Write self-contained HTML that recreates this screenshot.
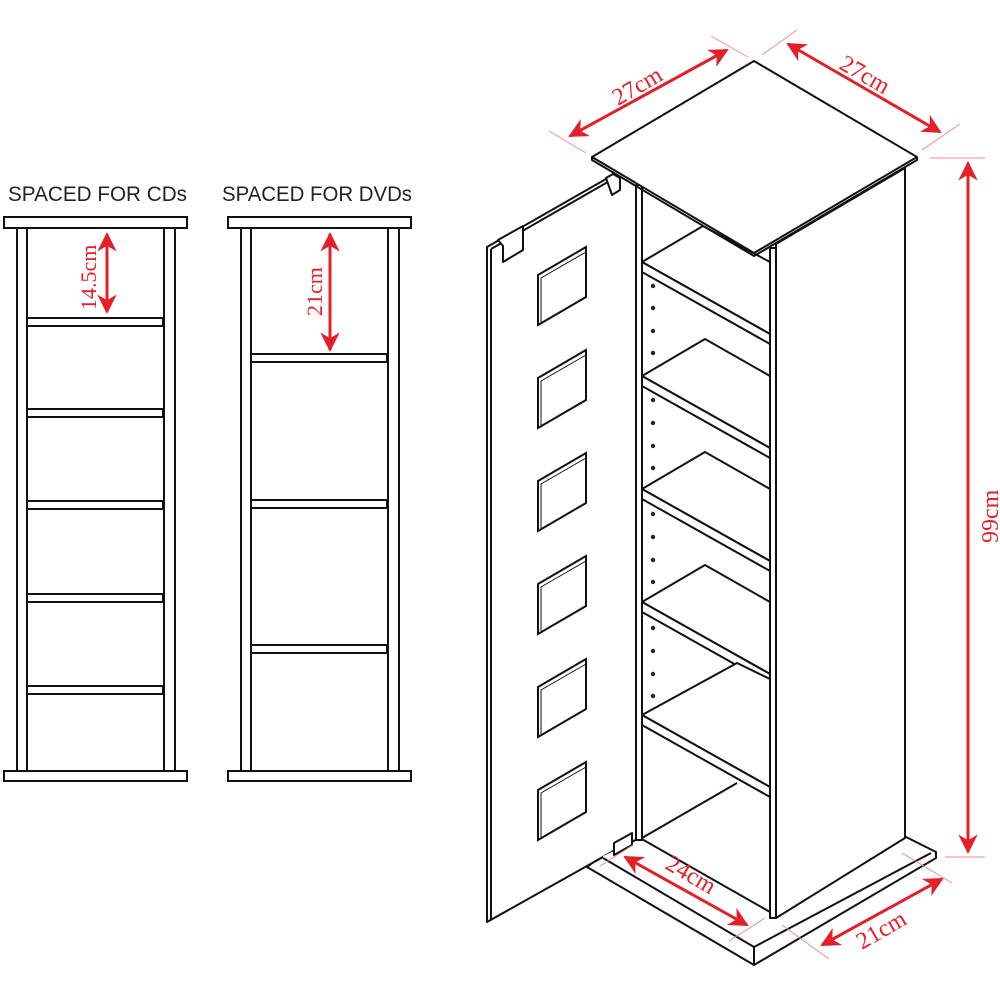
<!DOCTYPE html>
<html><head><meta charset="utf-8"><style>
html,body{margin:0;padding:0;background:#fff;}
svg{display:block;}
</style></head><body>
<svg width="1000" height="1000" viewBox="0 0 1000 1000" xmlns="http://www.w3.org/2000/svg">
<defs>
<marker id="ah" viewBox="0 0 10 10" refX="9" refY="5" markerWidth="6.5" markerHeight="6.5" orient="auto-start-reverse" markerUnits="strokeWidth">
<path d="M0,0 L10,5 L0,10 L3,5 z" fill="#e3202a"/></marker>
</defs>
<g font-family="Liberation Sans, sans-serif" font-size="21" fill="#222">
<text x="8" y="201" textLength="179" lengthAdjust="spacingAndGlyphs">SPACED FOR CDs</text>
<text x="222" y="201" textLength="190" lengthAdjust="spacingAndGlyphs">SPACED FOR DVDs</text>
</g>
<g fill="#fff" stroke="#111" stroke-width="2">
<rect x="4" y="217" width="183" height="11"/>
<rect x="17" y="228" width="10" height="543"/>
<rect x="164" y="228" width="11" height="543"/>
<rect x="4" y="771" width="183" height="10"/>
<rect x="27" y="318" width="136" height="8"/>
<rect x="27" y="409" width="136" height="8"/>
<rect x="27" y="501" width="136" height="8"/>
<rect x="27" y="594" width="136" height="8"/>
<rect x="27" y="686" width="136" height="8"/>
<rect x="228" y="217" width="183" height="11"/>
<rect x="241" y="228" width="10" height="543"/>
<rect x="388" y="228" width="11" height="543"/>
<rect x="228" y="771" width="183" height="10"/>
<rect x="251" y="354" width="136" height="8"/>
<rect x="251" y="500" width="136" height="8"/>
<rect x="251" y="645" width="136" height="8"/>
</g>
<g stroke="#e3202a" stroke-width="3" fill="none">
<line x1="107" y1="234" x2="107" y2="312" marker-start="url(#ah)" marker-end="url(#ah)"/>
<line x1="330" y1="234" x2="330" y2="350" marker-start="url(#ah)" marker-end="url(#ah)"/>
</g>
<g font-family="Liberation Serif, serif" font-size="22" fill="#e3202a">
<text transform="translate(96,310) rotate(-90)">14.5cm</text>
<text transform="translate(322,316) rotate(-90)">21cm</text>
</g>

<g stroke="#111" stroke-width="2" fill="#fff" stroke-linejoin="round">
<polygon points="587,867 754,965 936,858 936,852 900,834 770,912 640,838 603,855"/>
<polyline points="603,858 754,947 931,853" fill="none"/>
<line x1="754" y1="947" x2="754" y2="965"/>
<rect x="636" y="185" width="6" height="655"/>
<polygon points="776,244 905,168 905,838 776,918"/>
<rect x="770" y="248" width="6" height="670"/>
<polygon points="642,262 703,226 770,262 770,334"/>
<polygon points="642,262 770,334 770,344 642,272"/>
<polygon points="642,376 705,339 770,376 770,448"/>
<polygon points="642,376 770,448 770,458 642,386"/>
<polygon points="642,489 705,452 770,489 770,561"/>
<polygon points="642,489 770,561 770,571 642,499"/>
<polygon points="642,602 705,565 770,602 770,674"/>
<polygon points="642,602 770,674 770,684 642,612"/>
<polygon points="642,715 737,663 770,679 770,787"/>
<polygon points="642,715 770,787 770,797 642,725"/>
<line x1="642" y1="838" x2="737" y2="783" fill="none"/>
<polygon points="592,157 754,61 917,157 754,253"/>
<polyline points="592,157 592,160 754,256 917,160 917,157" fill="none"/>
<!-- door -->
<polygon points="487,247 613,175 613,850 487,922" stroke="none"/>
<polyline points="613,175 487,247 487,922 603,857" fill="none"/>
<polyline points="491,249 613,179" fill="none"/>
<line x1="491" y1="249" x2="491" y2="920"/>
<polygon points="498,240 523,226 523,250 503,262 503,246"/>
<polygon points="606,178 613,174 620,178 620,190 612,195"/>
<polygon points="614,843 632,833 632,845 614,855"/>
</g>
<g stroke="#111" stroke-width="2" fill="#fff">
<polygon points="538,275 586,247 586,297 538,325"/>
<polygon points="538,378 586,350 586,400 538,428"/>
<polygon points="538,481 586,453 586,503 538,531"/>
<polygon points="538,584 586,556 586,606 538,634"/>
<polygon points="538,687 586,659 586,709 538,737"/>
<polygon points="538,790 586,762 586,812 538,840"/>
</g>
<g stroke="#111" stroke-width="1" fill="none">
<polyline points="541,322 541,278 586,252"/>
<polyline points="541,425 541,381 586,355"/>
<polyline points="541,528 541,484 586,458"/>
<polyline points="541,631 541,587 586,561"/>
<polyline points="541,734 541,690 586,664"/>
<polyline points="541,837 541,793 586,767"/>
</g>
<g fill="#222">
<circle cx="653" cy="286" r="2.2"/><circle cx="653" cy="308" r="2.2"/><circle cx="653" cy="331" r="2.2"/><circle cx="653" cy="353" r="2.2"/>
<circle cx="653" cy="400" r="2.2"/><circle cx="653" cy="423" r="2.2"/><circle cx="653" cy="446" r="2.2"/><circle cx="653" cy="468" r="2.2"/>
<circle cx="653" cy="514" r="2.2"/><circle cx="653" cy="537" r="2.2"/><circle cx="653" cy="560" r="2.2"/><circle cx="653" cy="582" r="2.2"/>
<circle cx="653" cy="628" r="2.2"/><circle cx="653" cy="651" r="2.2"/><circle cx="653" cy="674" r="2.2"/><circle cx="653" cy="696" r="2.2"/>
</g>
<g stroke="#f08a8e" stroke-width="1">
<line x1="549" y1="131" x2="586" y2="153"/>
<line x1="711" y1="36" x2="748" y2="57"/>
<line x1="762" y1="55" x2="797" y2="30"/>
<line x1="922" y1="150" x2="960" y2="124"/>
<line x1="930" y1="158" x2="985" y2="158"/>
<line x1="945" y1="857" x2="985" y2="857"/>
<line x1="600" y1="866" x2="633" y2="845"/>
<line x1="729" y1="941" x2="765" y2="918"/>
<line x1="782" y1="925" x2="829" y2="959"/>
<line x1="902" y1="853" x2="952" y2="883"/>
</g>
<g stroke="#e3202a" stroke-width="3" fill="none">
<line x1="570" y1="136" x2="727" y2="50" marker-start="url(#ah)" marker-end="url(#ah)"/>
<line x1="788" y1="44" x2="940" y2="132" marker-start="url(#ah)" marker-end="url(#ah)"/>
<line x1="968" y1="163" x2="968" y2="852" marker-start="url(#ah)" marker-end="url(#ah)"/>
<line x1="625" y1="857" x2="747" y2="925" marker-start="url(#ah)" marker-end="url(#ah)"/>
<line x1="822" y1="945" x2="942" y2="879" marker-start="url(#ah)" marker-end="url(#ah)"/>
</g>
<g font-family="Liberation Serif, serif" font-size="24" fill="#e3202a">
<text transform="translate(618,106) rotate(-30)">27cm</text>
<text transform="translate(838,68) rotate(30)">27cm</text>
<text transform="translate(998,543) rotate(-90)">99cm</text>
<text transform="translate(664,868) rotate(30)">24cm</text>
<text transform="translate(862,950) rotate(-30)">21cm</text>
</g>
</svg>
</body></html>
